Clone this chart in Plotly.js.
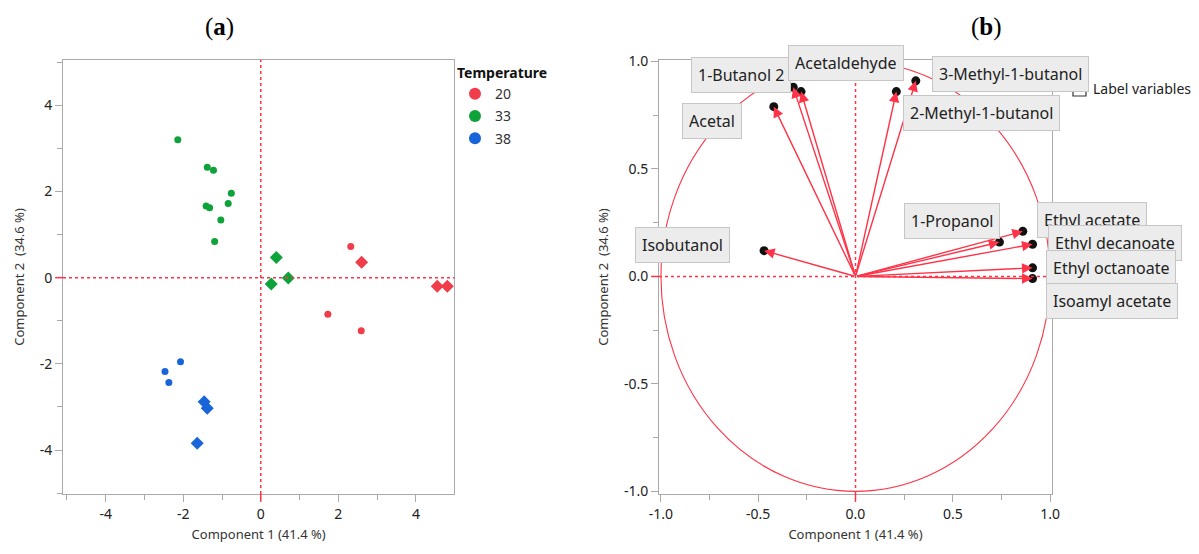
<!DOCTYPE html>
<html>
<head>
<meta charset="utf-8">
<script src="https://cdn.plot.ly/plotly-3.0.1.min.js"></script>
<style>html,body{margin:0;padding:0;background:#fff;}#chart{width:1199px;height:554px;}</style>
</head>
<body>
<div id="chart"></div>
<script>
// ---------- Panel (a): PCA scores ----------
const temperatures = ['20', '33', '38'];
const red20CircleX = [2.32, 1.73, 2.59];
const red20CircleY = [0.72, -0.85, -1.23];
const red20DiamondX = [2.60, 4.55, 4.81];
const red20DiamondY = [0.36, -0.20, -0.20];
const green33CircleX = [-2.14, -1.38, -1.22, -0.76, -0.84, -1.41, -1.32, -1.03, -1.19];
const green33CircleY = [3.20, 2.56, 2.49, 1.96, 1.72, 1.66, 1.62, 1.34, 0.84];
const green33DiamondX = [0.40, 0.27, 0.71];
const green33DiamondY = [0.47, -0.15, -0.01];
const blue38CircleX = [-2.07, -2.47, -2.37];
const blue38CircleY = [-1.95, -2.18, -2.43];
const blue38DiamondX = [-1.46, -1.38, -1.64];
const blue38DiamondY = [-2.88, -3.03, -3.84];
const scoreTickVals = [-4, -2, 0, 2, 4];
const scoreTickText = ['-4', '-2', '0', '2', '4'];

// ---------- Panel (b): loadings ----------
const variables = ['Acetal', '1-Butanol 2', 'Acetaldehyde', '2-Methyl-1-butanol', '3-Methyl-1-butanol',
  'Isobutanol', '1-Propanol', 'Ethyl acetate', 'Ethyl decanoate', 'Ethyl octanoate', 'Isoamyl acetate'];
const loadingPC1 = [-0.42, -0.32, -0.28, 0.21, 0.31, -0.47, 0.74, 0.86, 0.91, 0.91, 0.91];
const loadingPC2 = [0.79, 0.88, 0.86, 0.86, 0.91, 0.12, 0.16, 0.21, 0.15, 0.04, -0.01];
const loadTickVals = [-1, -0.5, 0, 0.5, 1];
const loadTickText = ['-1.0', '-0.5', '0.0', '0.5', '1.0'];

// ---------- styles / layout helpers ----------
const colors = {'20': '#f03c4b', '33': '#0ea23a', '38': '#1765d9'};
const RED = '#ff3347';
const FRAME = '#a9a9a9';
// plot-area geometry (pixels) used to place free text in paper coordinates
const W = 1199, H = 554, ML = 63, MR = 147, MT = 60, MB = 60;
const PW = W - ML - MR, PH = H - MT - MB;
const px = v => (v - ML) / PW;
const py = v => (H - MB - v) / PH;
// pixel offsets of each label box from its loading point (layout only)
const labelShift = {
  'Acetal': [-62, -14], '1-Butanol 2': [-52, 12], 'Acetaldehyde': [45, 29],
  '2-Methyl-1-butanol': [85, -21], '3-Methyl-1-butanol': [95, 7], 'Isobutanol': [-82, 6],
  '1-Propanol': [-47, 21], 'Ethyl acetate': [69, 11], 'Ethyl decanoate': [82, 1],
  'Ethyl octanoate': [78, 0], 'Isoamyl acetate': [79, -22]
};

const groups = [
  {t: '20', cx: red20CircleX, cy: red20CircleY, dx: red20DiamondX, dy: red20DiamondY},
  {t: '33', cx: green33CircleX, cy: green33CircleY, dx: green33DiamondX, dy: green33DiamondY},
  {t: '38', cx: blue38CircleX, cy: blue38CircleY, dx: blue38DiamondX, dy: blue38DiamondY}
];

const traces = [];
groups.forEach(g => {
  traces.push({type: 'scatter', mode: 'markers', x: g.cx, y: g.cy, name: g.t, legendgroup: g.t,
    xaxis: 'x', yaxis: 'y', marker: {symbol: 'circle', size: 7, color: colors[g.t]}, hoverinfo: 'x+y+name'});
  traces.push({type: 'scatter', mode: 'markers', x: g.dx, y: g.dy, name: g.t, legendgroup: g.t, showlegend: false,
    xaxis: 'x', yaxis: 'y', marker: {symbol: 'diamond', size: 10, color: colors[g.t]}, hoverinfo: 'x+y+name'});
});
traces.push({type: 'scatter', mode: 'markers', x: loadingPC1, y: loadingPC2, text: variables,
  xaxis: 'x2', yaxis: 'y2', showlegend: false, hoverinfo: 'text+x+y',
  marker: {symbol: 'circle', size: 9, color: '#111'}});

const axisCommon = {
  showline: true, linecolor: FRAME, linewidth: 1, mirror: true, showgrid: false, zeroline: false,
  ticks: 'outside', ticklen: 7, tickcolor: FRAME, tickwidth: 1, tickmode: 'array',
  tickfont: {family: 'Noto Sans, sans-serif', size: 14, color: '#222'}, fixedrange: true
};

const annotations = [
  {xref: 'paper', yref: 'paper', x: px(219), y: py(27), xanchor: 'center', yanchor: 'middle',
    text: '(<b>a</b>)', showarrow: false,
    font: {family: 'Liberation Serif, DejaVu Serif, serif', size: 25, color: '#000'}},
  {xref: 'paper', yref: 'paper', x: px(986), y: py(27), xanchor: 'center', yanchor: 'middle',
    text: '(<b>b</b>)', showarrow: false,
    font: {family: 'Liberation Serif, DejaVu Serif, serif', size: 25, color: '#000'}},
  {xref: 'paper', yref: 'paper', x: px(1091), y: py(88), xanchor: 'left', yanchor: 'middle',
    text: 'Label variables', showarrow: false,
    font: {family: 'Noto Sans, sans-serif', size: 14, color: '#222'}}
];
// arrows from the origin to each loading
variables.forEach((v, i) => {
  annotations.push({xref: 'x2', yref: 'y2', axref: 'x2', ayref: 'y2', x: loadingPC1[i], y: loadingPC2[i],
    ax: 0, ay: 0, text: '', showarrow: true, arrowhead: 2, arrowsize: 1.5, arrowwidth: 1.4,
    arrowcolor: RED, standoff: 0});
});
// label boxes
variables.forEach((v, i) => {
  annotations.push({xref: 'x2', yref: 'y2', x: loadingPC1[i], y: loadingPC2[i], text: v, showarrow: false,
    xanchor: 'center', yanchor: 'middle',
    xshift: labelShift[v][0], yshift: labelShift[v][1], bgcolor: '#ececec', bordercolor: '#c6c6c6',
    borderwidth: 1, borderpad: 6, height: 22,
    font: {family: 'Noto Sans, sans-serif', size: 16, color: '#222'}});
});

const shapes = [
  // panel a zero lines
  {type: 'line', xref: 'x', yref: 'y domain', x0: 0, x1: 0, y0: 0, y1: 1, line: {color: RED, width: 1.5, dash: 'dot'}},
  {type: 'line', xref: 'x domain', yref: 'y', x0: 0, x1: 1, y0: 0, y1: 0, line: {color: RED, width: 1.5, dash: 'dot'}},
  {type: 'line', xref: 'x', yref: 'y domain', x0: 0, x1: 0, y0: 0, y1: -0.018, line: {color: RED, width: 1.5}},
  {type: 'line', xref: 'x domain', yref: 'y', x0: 0, x1: -0.02, y0: 0, y1: 0, line: {color: RED, width: 1.5}},
  // panel b unit circle and zero lines
  {type: 'circle', xref: 'x2', yref: 'y2', x0: -1, x1: 1, y0: -1, y1: 1, line: {color: RED, width: 1.1}},
  {type: 'line', xref: 'x2', yref: 'y2 domain', x0: 0, x1: 0, y0: 0, y1: 1, line: {color: RED, width: 1.5, dash: 'dot'}},
  {type: 'line', xref: 'x2 domain', yref: 'y2', x0: 0, x1: 1, y0: 0, y1: 0, line: {color: RED, width: 1.5, dash: 'dot'}},
  {type: 'line', xref: 'x2', yref: 'y2 domain', x0: 0, x1: 0, y0: 0, y1: -0.018, line: {color: RED, width: 1.5}},
  {type: 'line', xref: 'x2 domain', yref: 'y2', x0: 0, x1: -0.02, y0: 0, y1: 0, line: {color: RED, width: 1.5}},
  // "Label variables" checkbox
  {type: 'rect', xref: 'paper', yref: 'paper', x0: px(1073), x1: px(1086), y0: py(96), y1: py(83),
    line: {color: '#333', width: 1.2}, fillcolor: 'white'}
];

const titleFont = {family: 'Noto Sans, sans-serif', size: 13, color: '#333'};
const layout = {
  width: W, height: H,
  margin: {l: ML, r: MR, t: MT, b: MB, autoexpand: false},
  paper_bgcolor: '#ffffff', plot_bgcolor: '#ffffff',
  font: {family: 'Noto Sans, sans-serif', color: '#333'},
  showlegend: true,
  legend: {x: px(455), y: 1.0, xanchor: 'left', yanchor: 'top', tracegroupgap: 1,
    bgcolor: 'rgba(0,0,0,0)', itemsizing: 'constant',
    title: {text: '<b>Temperature</b>', font: {family: 'Noto Sans, sans-serif', size: 14, color: '#111'}},
    font: {family: 'Noto Sans, sans-serif', size: 14, color: '#333'}},
  xaxis: Object.assign({}, axisCommon, {domain: [0, px(454.3)], range: [-5.10, 4.99],
    tickvals: scoreTickVals, ticktext: scoreTickText, anchor: 'y',
    minor: {tickmode: 'linear', tick0: 0, dtick: 1, ticks: 'outside', ticklen: 5, tickcolor: FRAME},
    title: {text: 'Component 1 (41.4 %)', font: titleFont, standoff: 8}}),
  yaxis: Object.assign({}, axisCommon, {domain: [0, 1], range: [-5.02, 5.05],
    tickvals: scoreTickVals, ticktext: scoreTickText, anchor: 'x',
    minor: {tickmode: 'linear', tick0: 0, dtick: 1, ticks: 'outside', ticklen: 5, tickcolor: FRAME},
    title: {text: 'Component 2&nbsp;&nbsp;(34.6 %)', font: titleFont, standoff: 12}}),
  xaxis2: Object.assign({}, axisCommon, {domain: [px(659), 1], range: [-1.01, 1.01],
    tickvals: loadTickVals, ticktext: loadTickText, anchor: 'y2',
    minor: {tickmode: 'linear', tick0: 0, dtick: 0.25, ticks: 'outside', ticklen: 5, tickcolor: FRAME},
    title: {text: 'Component 1 (41.4 %)', font: titleFont, standoff: 8}}),
  yaxis2: Object.assign({}, axisCommon, {domain: [0, 1], range: [-1.012, 1.007],
    tickvals: loadTickVals, ticktext: loadTickText, anchor: 'x2',
    minor: {tickmode: 'linear', tick0: 0, dtick: 0.25, ticks: 'outside', ticklen: 5, tickcolor: FRAME},
    title: {text: 'Component 2&nbsp;&nbsp;(34.6 %)', font: titleFont, standoff: 12}}),
  shapes: shapes,
  annotations: annotations
};

Plotly.newPlot('chart', traces, layout, {displayModeBar: false, staticPlot: true});
</script>
</body>
</html>
